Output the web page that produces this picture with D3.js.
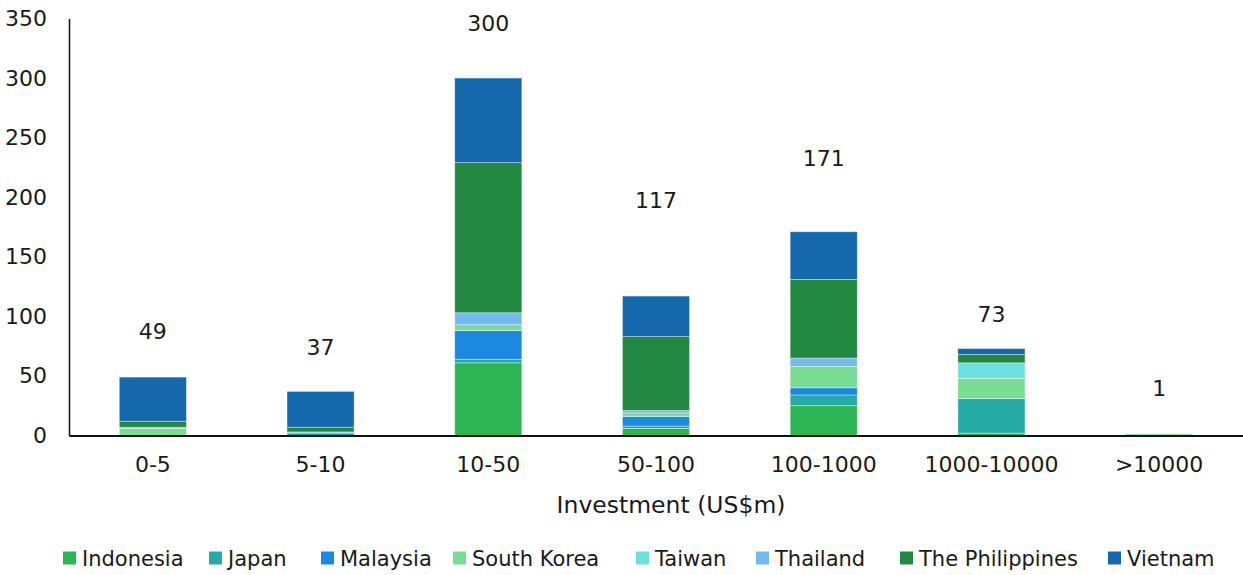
<!DOCTYPE html>
<html>
<head>
<meta charset="utf-8">
<script src="https://cdn.jsdelivr.net/npm/d3@7"></script>
<style>
  body { margin: 0; background: #fff; }
  text { font-family: "DejaVu Sans", sans-serif; fill: #1a1a1a; }
</style>
</head>
<body>
<svg id="chart"></svg>
<script>
/*
    Data
*/
var categories = ["0-5", "5-10", "10-50", "50-100", "100-1000", "1000-10000", ">10000"]
var countries = ["Indonesia", "Japan", "Malaysia", "South Korea", "Taiwan", "Thailand", "The Philippines", "Vietnam"]

// number of projects by investment bucket, one array per country
var indonesia   = [0, 0, 61, 6, 25, 2, 1]
var japan       = [0, 0, 3, 2, 9, 29, 0]
var malaysia    = [0, 2, 24, 8, 6, 0, 0]
var southKorea  = [6, 1, 5, 3, 18, 17, 0]
var taiwan      = [0, 0, 0, 0, 0, 13, 0]
var thailand    = [1, 0, 10, 2, 7, 0, 0]
var philippines = [5, 4, 126, 62, 66, 7, 0]
var vietnam     = [37, 30, 71, 34, 40, 5, 0]

var totals = [49, 37, 300, 117, 171, 73, 1]
// height (in chart units) where each total label sits in the original
var labelLevel = [88, 74, 346, 198, 233, 102, 40]

var yTicks = [0, 50, 100, 150, 200, 250, 300, 350]

var colors = ["#2db553", "#26aaa6", "#1c88e2", "#79de93", "#6ddfdf", "#75b9f1", "#238841", "#1468ab"]

/*
    Setup
*/
var W = 1243, H = 575
var margin = { top: 18.5, right: 0, bottom: 139.5, left: 69 }
var width = W - margin.left - margin.right
var height = H - margin.top - margin.bottom

var svg = d3.select("#chart")
    .attr("width", W)
    .attr("height", H)

var g = svg.append("g")
    .attr("transform", "translate(" + margin.left + "," + margin.top + ")")

var seriesValues = [indonesia, japan, malaysia, southKorea, taiwan, thailand, philippines, vietnam]
var table = categories.map(function(c, i) {
    var row = { cat: c }
    countries.forEach(function(k, j) { row[k] = seriesValues[j][i] })
    return row
})

var stack = d3.stack().keys(countries)
var layers = stack(table)

//Scales
var xScale = d3.scaleBand()
    .domain(categories)
    .range([0, width])
    .paddingInner(0.6)
    .paddingOuter(0.3)

var yScale = d3.scaleLinear()
    .domain([0, 350])
    .range([height, 0])

var color = d3.scaleOrdinal().domain(countries).range(colors)

//Bars
g.selectAll(".layer")
    .data(layers)
    .enter().append("g")
    .attr("class", "layer")
    .attr("fill", function(d) { return color(d.key) })
    .selectAll("rect")
    .data(function(d) { return d })
    .enter().append("rect")
    .filter(function(d) { return d[1] - d[0] > 0 })
    .attr("x", function(d) { return xScale(d.data.cat) })
    .attr("width", xScale.bandwidth())
    .attr("y", function(d) { return yScale(d[1]) })
    .attr("height", function(d) { return yScale(d[0]) - yScale(d[1]) })
    .attr("stroke", "#ffffff")
    .attr("stroke-opacity", 0.45)
    .attr("stroke-width", 0.8)

//Total labels
g.selectAll(".total")
    .data(categories)
    .enter().append("text")
    .attr("class", "total")
    .attr("x", function(d) { return xScale(d) + xScale.bandwidth() / 2 })
    .attr("y", function(d, i) { return yScale(labelLevel[i]) })
    .attr("dy", "0.36em")
    .attr("text-anchor", "middle")
    .style("font-size", "22px")
    .text(function(d, i) { return totals[i] })

//Y-Axis
var yAxis = d3.axisLeft(yScale)
    .tickValues(yTicks)
    .tickSize(0)
    .tickPadding(22)

var yg = g.append("g").call(yAxis)
yg.select(".domain").attr("stroke", "#111").attr("stroke-width", 1.5)
yg.selectAll(".tick text")
    .style("font-size", "22px")
    .style("font-family", "DejaVu Sans, sans-serif")
    .attr("fill", "#1a1a1a")

//X-Axis
var xAxis = d3.axisBottom(xScale)
    .tickSize(0)
    .tickPadding(21)

var xg = g.append("g")
    .attr("transform", "translate(0," + height + ")")
    .call(xAxis)
xg.select(".domain").attr("stroke", "#111").attr("stroke-width", 2)
xg.selectAll(".tick text")
    .style("font-size", "22px")
    .style("font-family", "DejaVu Sans, sans-serif")
    .attr("fill", "#1a1a1a")

// axis title
svg.append("text")
    .attr("x", 671)
    .attr("y", 505)
    .attr("dy", "0.36em")
    .attr("text-anchor", "middle")
    .style("font-size", "23.5px")
    .text("Investment (US$m)")

//Legend
var legendX = [63, 209, 321, 453, 636, 756, 900, 1108]
var legend = svg.append("g").attr("class", "legend")
var item = legend.selectAll(".item")
    .data(countries)
    .enter().append("g")
    .attr("class", "item")
    .attr("transform", function(d, i) { return "translate(" + legendX[i] + ",558)" })

item.append("rect")
    .attr("x", 0)
    .attr("y", -6.5)
    .attr("width", 13)
    .attr("height", 13)
    .attr("fill", function(d) { return color(d) })

item.append("text")
    .attr("x", 19)
    .attr("y", 0)
    .attr("dy", "0.36em")
    .style("font-size", "21px")
    .text(function(d) { return d })
</script>
</body>
</html>
